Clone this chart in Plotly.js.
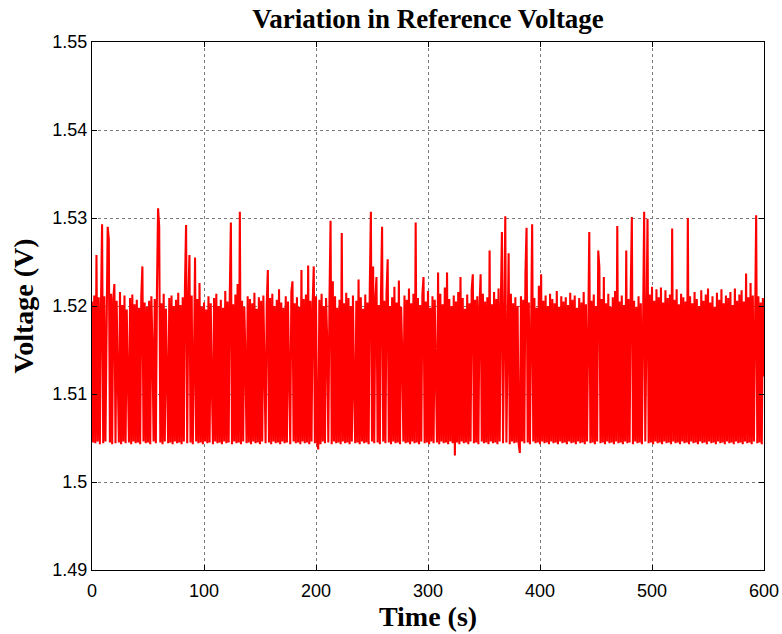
<!DOCTYPE html>
<html>
<head>
<meta charset="utf-8">
<script src="https://cdn.plot.ly/plotly-3.0.1.min.js"></script>
<style>html,body{margin:0;padding:0;background:#fff;}#chart{width:782px;height:634px;}</style>
</head>
<body>
<div id="chart"></div>
<script>
// Sampling interval of the recording (seconds per sample)
const sampleIntervalSec = 1;

// Reference voltage readings (V), one per sample
const voltage = [
1.5205,1.5045,1.5212,1.5044,1.5258,1.5046,1.5210,1.5043,1.5199,1.5293,
1.5044,1.5211,1.5046,1.5203,1.5290,1.5276,1.5045,1.5214,1.5043,1.5208,
1.5225,1.5044,1.5206,1.5120,1.5045,1.5216,1.5043,1.5201,1.5046,1.5212,
1.5044,1.5196,1.5098,1.5045,1.5209,1.5043,1.5213,1.5046,1.5202,1.5044,
1.5207,1.5045,1.5198,1.5043,1.5210,1.5245,1.5046,1.5204,1.5044,1.5199,
1.5045,1.5206,1.5043,1.5211,1.5152,1.5046,1.5208,1.5044,1.5218,1.5311,
1.5290,1.5045,1.5203,1.5043,1.5214,1.5046,1.5197,1.5085,1.5044,1.5209,
1.5045,1.5212,1.5043,1.5200,1.5046,1.5207,1.5044,1.5215,1.5045,1.5201,
1.5043,1.5210,1.5046,1.5222,1.5292,1.5044,1.5205,1.5258,1.5045,1.5212,
1.5043,1.5130,1.5255,1.5046,1.5208,1.5044,1.5226,1.5045,1.5199,1.5043,
1.5204,1.5046,1.5196,1.5044,1.5211,1.5045,1.5203,1.5110,1.5043,1.5209,
1.5046,1.5214,1.5044,1.5200,1.5045,1.5207,1.5043,1.5198,1.5046,1.5217,
1.5044,1.5205,1.5045,1.5210,1.5295,1.5043,1.5202,1.5046,1.5213,1.5044,
1.5225,1.5045,1.5307,1.5043,1.5206,1.5046,1.5199,1.5140,1.5044,1.5211,
1.5045,1.5208,1.5043,1.5203,1.5046,1.5215,1.5044,1.5197,1.5045,1.5210,
1.5043,1.5206,1.5046,1.5212,1.5090,1.5044,1.5201,1.5241,1.5045,1.5209,
1.5043,1.5214,1.5046,1.5200,1.5044,1.5207,1.5045,1.5219,1.5043,1.5204,
1.5046,1.5198,1.5044,1.5211,1.5045,1.5205,1.5125,1.5043,1.5216,1.5228,
1.5046,1.5203,1.5044,1.5210,1.5045,1.5199,1.5043,1.5241,1.5046,1.5208,
1.5044,1.5213,1.5045,1.5246,1.5043,1.5206,1.5046,1.5201,1.5245,1.5044,
1.5211,1.5045,1.5037,1.5207,1.5043,1.5214,1.5046,1.5200,1.5044,1.5209,
1.5160,1.5045,1.5204,1.5297,1.5043,1.5228,1.5046,1.5211,1.5044,1.5198,
1.5045,1.5207,1.5043,1.5283,1.5046,1.5203,1.5044,1.5215,1.5045,1.5209,
1.5043,1.5200,1.5046,1.5212,1.5105,1.5044,1.5206,1.5045,1.5230,1.5043,
1.5210,1.5046,1.5197,1.5044,1.5213,1.5045,1.5204,1.5043,1.5218,1.5307,
1.5046,1.5245,1.5044,1.5209,1.5233,1.5045,1.5201,1.5043,1.5212,1.5290,
1.5046,1.5206,1.5044,1.5215,1.5253,1.5045,1.5200,1.5043,1.5210,1.5046,
1.5222,1.5044,1.5204,1.5045,1.5229,1.5043,1.5199,1.5146,1.5046,1.5212,
1.5044,1.5207,1.5045,1.5220,1.5043,1.5203,1.5046,1.5214,1.5044,1.5295,
1.5045,1.5209,1.5043,1.5201,1.5046,1.5213,1.5233,1.5044,1.5205,1.5045,
1.5217,1.5043,1.5198,1.5046,1.5211,1.5044,1.5207,1.5095,1.5045,1.5238,
1.5043,1.5214,1.5046,1.5202,1.5044,1.5221,1.5045,1.5238,1.5043,1.5208,
1.5046,1.5200,1.5044,1.5212,1.5030,1.5205,1.5045,1.5216,1.5043,1.5233,
1.5046,1.5209,1.5044,1.5197,1.5045,1.5213,1.5043,1.5203,1.5046,1.5218,
1.5236,1.5044,1.5207,1.5045,1.5211,1.5043,1.5200,1.5236,1.5046,1.5214,
1.5044,1.5205,1.5045,1.5210,1.5043,1.5263,1.5046,1.5202,1.5044,1.5216,
1.5045,1.5208,1.5043,1.5220,1.5046,1.5199,1.5284,1.5044,1.5212,1.5302,
1.5045,1.5206,1.5260,1.5043,1.5214,1.5046,1.5203,1.5044,1.5210,1.5045,
1.5200,1.5043,1.5033,1.5211,1.5046,1.5207,1.5044,1.5237,1.5289,1.5045,
1.5204,1.5043,1.5215,1.5293,1.5046,1.5209,1.5044,1.5198,1.5045,1.5223,
1.5043,1.5236,1.5046,1.5206,1.5044,1.5212,1.5045,1.5200,1.5043,1.5214,
1.5046,1.5208,1.5044,1.5203,1.5045,1.5217,1.5043,1.5199,1.5046,1.5211,
1.5044,1.5205,1.5045,1.5210,1.5043,1.5201,1.5046,1.5215,1.5044,1.5207,
1.5045,1.5212,1.5043,1.5198,1.5046,1.5209,1.5044,1.5204,1.5045,1.5216,
1.5043,1.5202,1.5046,1.5211,1.5284,1.5044,1.5206,1.5045,1.5213,1.5043,
1.5200,1.5046,1.5263,1.5244,1.5044,1.5208,1.5045,1.5233,1.5043,1.5203,
1.5046,1.5214,1.5044,1.5199,1.5045,1.5210,1.5043,1.5217,1.5046,1.5291,
1.5044,1.5205,1.5045,1.5212,1.5043,1.5201,1.5046,1.5263,1.5044,1.5208,
1.5045,1.5214,1.5301,1.5043,1.5206,1.5046,1.5199,1.5044,1.5211,1.5045,
1.5203,1.5043,1.5215,1.5307,1.5046,1.5208,1.5299,1.5044,1.5213,1.5045,
1.5222,1.5043,1.5206,1.5046,1.5219,1.5044,1.5210,1.5045,1.5221,1.5043,
1.5204,1.5046,1.5218,1.5044,1.5209,1.5045,1.5213,1.5043,1.5288,1.5046,
1.5207,1.5044,1.5219,1.5045,1.5202,1.5043,1.5214,1.5046,1.5210,1.5044,
1.5205,1.5045,1.5300,1.5043,1.5211,1.5046,1.5203,1.5044,1.5216,1.5045,
1.5208,1.5043,1.5200,1.5046,1.5218,1.5044,1.5206,1.5045,1.5213,1.5043,
1.5220,1.5046,1.5204,1.5044,1.5211,1.5045,1.5199,1.5043,1.5215,1.5046,
1.5207,1.5044,1.5219,1.5045,1.5203,1.5043,1.5212,1.5046,1.5209,1.5044,
1.5216,1.5045,1.5201,1.5043,1.5220,1.5046,1.5206,1.5044,1.5213,1.5045,
1.5218,1.5043,1.5205,1.5046,1.5237,1.5044,1.5210,1.5045,1.5226,1.5043,
1.5212,1.5046,1.5207,1.5303,1.5044,1.5211,1.5045,1.5204,1.5043,1.5209,
1.5120
];

// Axis tick values and labels
const xTickVals = [0, 100, 200, 300, 400, 500, 600];
const xTickText = ['0', '100', '200', '300', '400', '500', '600'];
const yTickVals = [1.49, 1.50, 1.51, 1.52, 1.53, 1.54, 1.55];
const yTickText = ['1.49', '1.5', '1.51', '1.52', '1.53', '1.54', '1.55'];

const time = voltage.map((_, i) => i * sampleIntervalSec);

const trace = {
  x: time,
  y: voltage,
  type: 'scatter',
  mode: 'lines',
  line: {color: '#ff0000', width: 2.1},
  hoverinfo: 'x+y'
};

const axisCommon = {
  showline: true,
  linecolor: '#000',
  linewidth: 1,
  mirror: 'ticks',
  ticks: 'inside',
  ticklen: 5,
  tickcolor: '#000',
  showgrid: true,
  gridcolor: '#7a7a7a',
  griddash: 'dot',
  gridwidth: 1,
  zeroline: false,
  tickfont: {family: 'Liberation Sans, Arial, sans-serif', size: 18, color: '#000'}
};

const serif = 'Liberation Serif, Times New Roman, serif';

const layout = {
  width: 782,
  height: 634,
  margin: {l: 92, r: 18, t: 42, b: 64},
  paper_bgcolor: '#fff',
  plot_bgcolor: '#fff',
  showlegend: false,
  title: {
    text: '<b>Variation in Reference Voltage</b>',
    font: {family: serif, size: 27, color: '#000'},
    x: 0.5, xref: 'paper', xanchor: 'center',
    y: 0.971, yref: 'container', yanchor: 'middle'
  },
  xaxis: Object.assign({}, axisCommon, {
    range: [0, 600],
    tickmode: 'array',
    tickvals: xTickVals,
    ticktext: xTickText,
    ticklabelstandoff: 4,
    title: {text: '<b>Time (s)</b>', font: {family: serif, size: 28, color: '#000'}, standoff: 6}
  }),
  yaxis: Object.assign({}, axisCommon, {
    range: [1.49, 1.55],
    tickmode: 'array',
    tickvals: yTickVals,
    ticktext: yTickText,
    title: {text: '<b>Voltage (V)</b>', font: {family: serif, size: 28, color: '#000'}, standoff: 10}
  })
};

Plotly.newPlot('chart', [trace], layout, {displayModeBar: false});
</script>
</body>
</html>
